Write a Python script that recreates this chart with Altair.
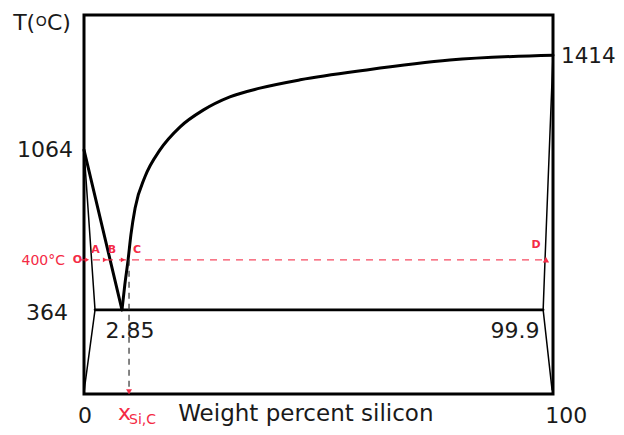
import altair as alt
import pandas as pd

# ---- schematic coordinates (0-100 across the frame, 0-100 bottom to top) ----
liq_left_x = [0.0, 8.1]
liq_left_y = [64.4, 22.2]
liq_right_x = [8.1, 8.7, 9.4, 10.0, 10.9, 13.0, 16.2, 20.5, 25.4, 31.1, 37.5, 46.1, 60.3, 78.0, 100.0]
liq_right_y = [22.2, 28.8, 35.4, 42.0, 49.1, 57.3, 64.4, 70.5, 74.9, 78.4, 80.7, 82.9, 85.5, 88.1, 89.4]
eut_x = [2.35, 97.9]
eut_y = [22.2, 22.2]
sol_left_x = [0.0, 2.35, 0.2, 0.0]
sol_left_y = [64.4, 22.2, 2.4, 0.3]
sol_right_x = [100.0, 98.3, 97.9, 99.8]
sol_right_y = [89.4, 35.4, 22.2, 1.1]

iso_x, iso_x2, iso_y = [-0.85], [98.9], [35.4]
vert_x, vert_y, vert_y2 = [9.6], [35.4], [0.0]

arrow_x = [0.64, 4.48, 8.3]
arrow_y = [35.4, 35.4, 35.4]
d_x, d_y = [98.5], [35.4]
xc_x, xc_y = [9.6], [0.6]

black_text = ["1064", "364", "0", "100", "2.85", "99.9"]
black_x = [-2.35, -3.4, 0.2, 102.8, 9.8, 91.9]
black_y = [62.5, 19.5, -7.65, -7.65, 14.8, 14.8]
black_align = ["right", "right", "center", "center", "center", "center"]

right_label = ["1414"]
right_label_x, right_label_y = [101.7], [87.3]

axis_title = ["Weight percent silicon"]
axis_title_x, axis_title_y = [47.3], [-7.2]

title_parts = ["T(", "O", "C)"]
title_x = [-15.1, -10.3, -7.9]
title_y = [96.0, 97.1, 96.0]
title_size = [22, 14, 22]

red_labels = ["O", "A", "B", "C", "D"]
red_lx = [-1.4, 2.45, 5.97, 11.3, 96.4]
red_ly = [34.6, 37.2, 37.2, 37.2, 38.5]

RED = "#f42a45"

def line_df(xs, ys):
    return pd.DataFrame({"x": xs, "y": ys, "i": list(range(len(xs)))})

X = alt.Scale(domain=[0, 100], nice=False, zero=False)
Y = alt.Scale(domain=[0, 100], nice=False, zero=False)

def pos():
    return dict(x=alt.X("x:Q", scale=X, axis=None), y=alt.Y("y:Q", scale=Y, axis=None))

def curve(xs, ys, width, interp="linear"):
    return alt.Chart(line_df(xs, ys)).mark_line(
        color="black", strokeWidth=width, interpolate=interp, strokeCap="round", strokeJoin="round"
    ).encode(order="i:Q", **pos())

layers = [
    curve(liq_left_x, liq_left_y, 3),
    curve(liq_right_x, liq_right_y, 3, "monotone"),
    curve(eut_x, eut_y, 2.6),
    curve(sol_left_x, sol_left_y, 1.5),
    curve(sol_right_x, sol_right_y, 1.5),
]

layers.append(
    alt.Chart(pd.DataFrame({"x": iso_x, "x2": iso_x2, "y": iso_y})).mark_rule(
        color=RED, strokeWidth=1.3, strokeDash=[7, 6], opacity=0.85
    ).encode(x2="x2:Q", **pos())
)
layers.append(
    alt.Chart(pd.DataFrame({"x": vert_x, "y": vert_y, "y2": vert_y2})).mark_rule(
        color="#333333", strokeWidth=1.2, strokeDash=[6, 5]
    ).encode(y2="y2:Q", **pos())
)
layers.append(
    alt.Chart(pd.DataFrame({"x": arrow_x, "y": arrow_y})).mark_point(
        shape="triangle-right", filled=True, color=RED, size=24, opacity=1
    ).encode(**pos())
)
layers.append(
    alt.Chart(pd.DataFrame({"x": d_x, "y": d_y})).mark_point(
        shape="triangle-up", filled=True, color=RED, size=40, opacity=1
    ).encode(**pos())
)
layers.append(
    alt.Chart(pd.DataFrame({"x": xc_x, "y": xc_y})).mark_point(
        shape="triangle-down", filled=True, color=RED, size=35, opacity=1
    ).encode(**pos())
)

# black tick-like labels
for a in ["right", "center"]:
    sub = pd.DataFrame({"t": black_text, "x": black_x, "y": black_y, "a": black_align})
    sub = sub[sub["a"] == a]
    layers.append(
        alt.Chart(sub).mark_text(
            font="DejaVu Sans", fontSize=22, color="#1a1a1a", align=a, baseline="alphabetic"
        ).encode(text="t:N", **pos())
    )
layers.append(
    alt.Chart(pd.DataFrame({"t": right_label, "x": right_label_x, "y": right_label_y})).mark_text(
        font="DejaVu Sans", fontSize=21.5, color="#1a1a1a", align="left", baseline="alphabetic"
    ).encode(text="t:N", **pos())
)

# axis title
layers.append(
    alt.Chart(pd.DataFrame({"t": axis_title, "x": axis_title_x, "y": axis_title_y})).mark_text(
        font="DejaVu Sans", fontSize=23, color="#1a1a1a", align="center", baseline="alphabetic"
    ).encode(text="t:N", **pos())
)

# T(OC)
for t, x, y, s in zip(title_parts, title_x, title_y, title_size):
    layers.append(
        alt.Chart(pd.DataFrame({"t": [t], "x": [x], "y": [y]})).mark_text(
            font="DejaVu Sans", fontSize=s, color="#1a1a1a", align="left", baseline="alphabetic"
        ).encode(text="t:N", **pos())
    )

# red texts
layers.append(
    alt.Chart(pd.DataFrame({"t": red_labels, "x": red_lx, "y": red_ly})).mark_text(
        font="DejaVu Sans", fontSize=11, fontWeight="bold", color=RED, align="center", baseline="alphabetic"
    ).encode(text="t:N", **pos())
)
layers.append(
    alt.Chart(pd.DataFrame({"t": ["400°C"], "x": [-4.05], "y": [34.0]})).mark_text(
        font="DejaVu Sans", fontSize=14, color=RED, align="right", baseline="alphabetic"
    ).encode(text="t:N", **pos())
)
layers.append(
    alt.Chart(pd.DataFrame({"t": ["x", "Si,C"], "x": [7.25, 9.6], "y": [-6.9, -8.0], "s": [22, 14]})).mark_text(
        font="DejaVu Sans", color=RED, align="left", baseline="alphabetic"
    ).encode(text="t:N", size=alt.Size("s:Q", scale=None, legend=None), **pos())
)

chart = alt.layer(*layers).properties(
    width=469, height=379,
    autosize=alt.AutoSizeParams(type="none"),
    padding={"left": 76, "top": 7, "right": 63, "bottom": 33},
    background="white",
).configure_view(stroke="black", strokeWidth=3)

chart.save("out.html", embed_options={"renderer": "svg", "actions": False})
